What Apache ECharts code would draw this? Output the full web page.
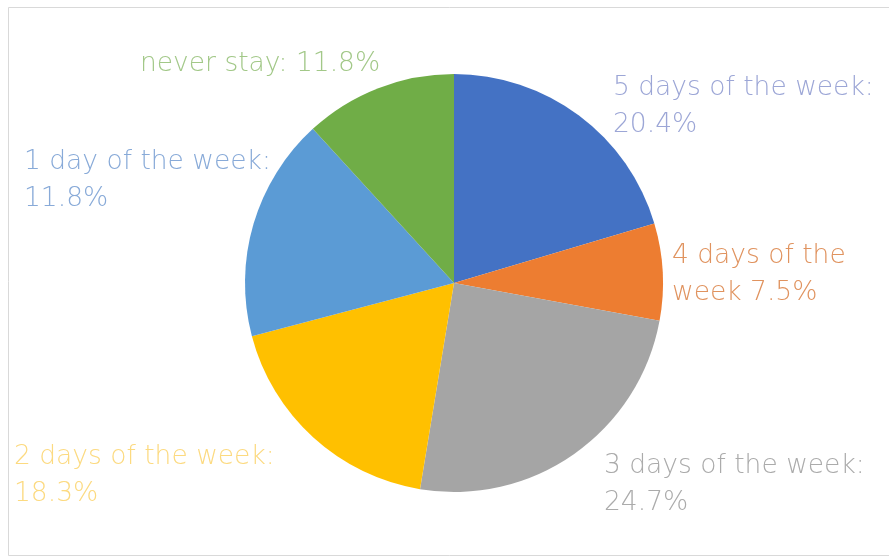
<!DOCTYPE html>
<html>
<head>
<meta charset="utf-8">
<script src="https://cdn.jsdelivr.net/npm/echarts@6/dist/echarts.min.js"></script>
<style>
html,body{margin:0;padding:0;background:#fff;}
#chart{width:889px;height:558px;}
</style>
</head>
<body>
<div id="chart"></div>
<script>
// Data (clockwise from 12 o'clock)
var categories = ['5 days of the week', '4 days of the week', '3 days of the week', '2 days of the week', '1 day of the week', 'never stay'];
var values = [20.4, 7.5, 24.7, 18.3, 17.3, 11.8];
var labelTexts = ['5 days of the week:\n20.4%', '4 days of the\nweek 7.5%', '3 days of the week:\n24.7%', '2 days of the week:\n18.3%', '1 day of the week:\n11.8%', 'never stay: 11.8%'];

var sliceColors = ['#4472C4', '#ED7D31', '#A5A5A5', '#FFC000', '#5B9BD5', '#70AD47'];
var labelColors = ['#9ca6d6', '#e0935f', '#ababab', '#fcda80', '#88aad8', '#a2c888'];
var labelPos = [[613, 70], [672, 238], [604, 448], [14, 439], [24, 144], [140, 46]];

var chart = echarts.init(document.getElementById('chart'));
chart.setOption({
  backgroundColor: '#ffffff',
  animation: false,
  graphic: [{
    type: 'rect',
    shape: { x: 8.5, y: 7.5, width: 900, height: 548 },
    style: { fill: 'none', stroke: '#d9d9d9', lineWidth: 1 }
  }],
  series: [{
    type: 'pie',
    center: [454, 283],
    radius: [0, 209],
    startAngle: 90,
    clockwise: true,
    itemStyle: { borderWidth: 0 },
    labelLine: { show: false },
    data: categories.map(function (c, i) {
      return {
        name: c,
        value: values[i],
        itemStyle: { color: sliceColors[i] },
        label: {
          show: true,
          formatter: labelTexts[i],
          color: labelColors[i],
          fontFamily: 'DejaVu Sans',
          fontWeight: 200,
          fontSize: 26.5,
          lineHeight: 37,
          width: 400,
          overflow: 'none'
        }
      };
    }),
    labelLayout: function (params) {
      var p = labelPos[params.dataIndex];
      return { x: p[0], y: p[1], align: 'left', verticalAlign: 'top', hideOverlap: false };
    }
  }]
});
</script>
</body>
</html>
